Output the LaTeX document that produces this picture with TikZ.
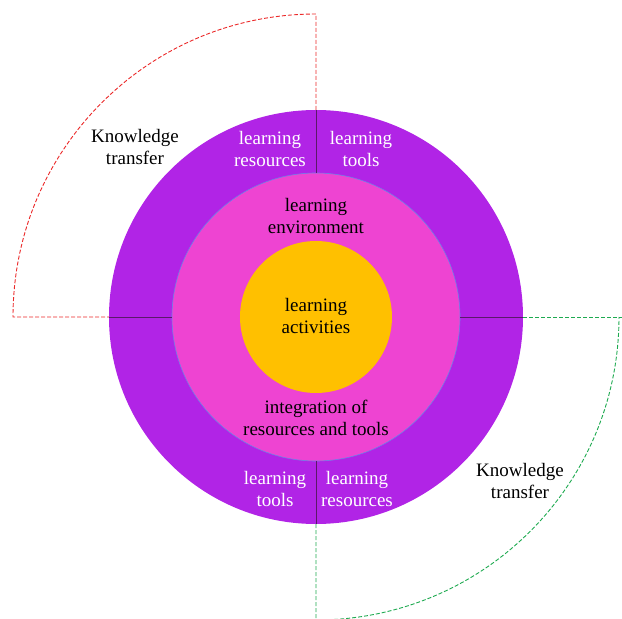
\documentclass[tikz,border=0pt]{standalone}
\usepackage{fontspec}
\setmainfont{Liberation Serif}
\definecolor{ringpurple}{RGB}{177,36,230}
\definecolor{envpink}{RGB}{238,68,210}
\definecolor{actyellow}{RGB}{255,192,0}
\definecolor{edgeblue}{RGB}{110,130,230}
\definecolor{divline}{RGB}{90,25,105}
\definecolor{transred}{RGB}{235,40,40}
\definecolor{transgreen}{RGB}{30,170,80}
\def\rout{207}
\def\rmid{144}
\def\rin{76}
\def\rarc{303}
\begin{document}
\begin{tikzpicture}[
    x=1pt, y=1pt,
    every node/.style={font=\fontsize{19}{22}\selectfont, align=center},
    disc/.style={circle, inner sep=0pt, minimum size=2*#1},
    lbl/.style={text=white},
    divider/.style={draw=divline, line width=0.9pt},
    transfer/.style={line width=0.9pt, dash pattern=on 4pt off 2pt}
]
\useasboundingbox (-316,-302) rectangle (306,317);

\node [disc=\rout, fill=ringpurple] (outer) at (0,0) {};
\node [disc=\rmid, fill=envpink, draw=edgeblue, line width=0.6pt] (env) at (0,0) {};
\node [disc=\rin, fill=actyellow] (act) at (0,0) {};

% ring dividers
\draw [divider] (env.north) -- (outer.north);
\draw [divider] (env.south) -- (outer.south);
\draw [divider] (env.west) -- (outer.west);
\draw [divider] (env.east) -- (outer.east);

% knowledge transfer arcs
\draw [transfer, draw=transred]
    (outer.north) -- (0,\rarc) arc (90:180:\rarc) -- (outer.west);
\draw [transfer, draw=transgreen]
    (outer.east) -- (306,0);
\draw [transfer, draw=transgreen]
    (outer.south) -- (0,-\rarc) arc (270:360:\rarc);

\node [lbl] (resup) at (-46,168) {learning\\resources};
\node [lbl] (toolsup) at (45,168) {learning\\tools};
\node [lbl] (toolsdn) at (-41,-172) {learning\\tools};
\node [lbl] (resdn) at (41,-172) {learning\\resources};

\node (envtxt) at (0,101) {learning\\environment};
\node (acttxt) at (0,1) {learning\\activities};
\node (inttxt) at (0,-101) {integration of\\resources and tools};

\node (ktup) at (-181,170) {Knowledge\\transfer};
\node (ktdn) at (204,-164) {Knowledge\\transfer};

\end{tikzpicture}
\end{document}
